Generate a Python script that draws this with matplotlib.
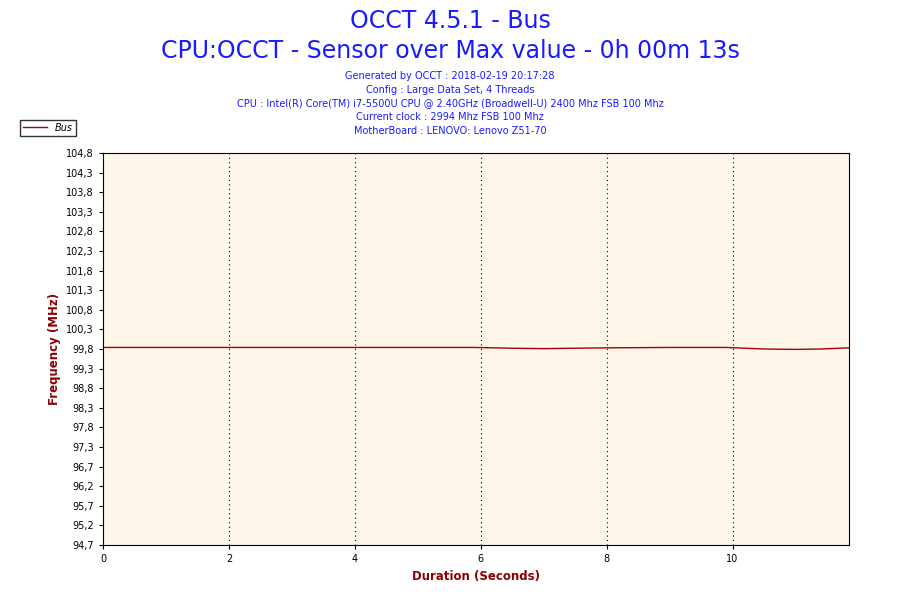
import matplotlib
matplotlib.use('Agg')
import matplotlib.pyplot as plt
import numpy as np

# Bus frequency readings (MHz) over time (s)
times = [0, 1, 2, 3, 4, 5, 5.9, 6.5, 7.0, 7.5, 8.0, 9.0, 9.9, 10.5, 11.0, 11.4, 11.85]
freq = [99.79, 99.79, 99.79, 99.79, 99.79, 99.79, 99.79, 99.77, 99.76, 99.77, 99.78, 99.79, 99.79, 99.75, 99.74, 99.75, 99.78]

y_ticks = np.linspace(94.7, 104.8, 21)
y_labels = ['94,7', '95,2', '95,7', '96,2', '96,7', '97,3', '97,8', '98,3', '98,8', '99,3',
            '99,8', '100,3', '100,8', '101,3', '101,8', '102,3', '102,8', '103,3', '103,8',
            '104,3', '104,8']
x_ticks = [0, 2, 4, 6, 8, 10]

fig = plt.figure(figsize=(9, 6), dpi=100)
ax = fig.add_axes([103/900, 1-545/600, 746/900, 392/600])
ax.set_facecolor('#fdf6e9')
ax.plot(times, freq, color='#aa0000', linewidth=1, label='Bus')

ax.set_xlim(0, 11.85)
ax.set_ylim(94.7, 104.8)
ax.set_yticks(y_ticks)
ax.set_yticklabels(y_labels)
ax.set_xticks(x_ticks)
ax.tick_params(labelsize=7, length=3)
for x in x_ticks[1:]:
    ax.axvline(x, color='black', linestyle=(0, (1, 3)), linewidth=0.8)

ax.set_xlabel('Duration (Seconds)', color='#8b0000', fontsize=8.5, fontweight='bold')
ax.set_ylabel('Frequency (MHz)', color='#8b0000', fontsize=8.5, fontweight='bold')

fig.text(0.5, 0.965, 'OCCT 4.5.1 - Bus', ha='center', va='center', fontsize=17, color='#1a1aff')
fig.text(0.5, 0.915, 'CPU:OCCT - Sensor over Max value - 0h 00m 13s', ha='center', va='center',
         fontsize=17, color='#1a1aff')
info = ['Generated by OCCT : 2018-02-19 20:17:28',
        'Config : Large Data Set, 4 Threads',
        'CPU : Intel(R) Core(TM) i7-5500U CPU @ 2.40GHz (Broadwell-U) 2400 Mhz FSB 100 Mhz',
        'Current clock : 2994 Mhz FSB 100 Mhz',
        'MotherBoard : LENOVO: Lenovo Z51-70']
for i, line in enumerate(info):
    fig.text(0.5, 0.873 - i * 0.0227, line, ha='center', va='center', fontsize=7, color='#1a1aff')

fig.legend(loc='upper left', bbox_to_anchor=(15/900, 1-115/600), fontsize=7, frameon=True,
           fancybox=False, edgecolor='black', prop={'style': 'italic', 'size': 7},
           handlelength=2.5, borderpad=0.3)

plt.savefig('out.png', dpi=100)
